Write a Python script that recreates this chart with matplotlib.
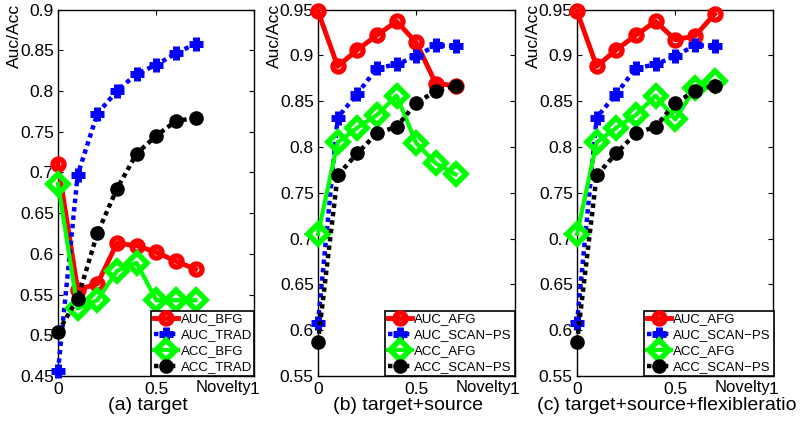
import matplotlib
matplotlib.use("Agg")
import matplotlib.pyplot as plt

plt.rcParams['font.family'] = ['Liberation Sans', 'DejaVu Sans']

novelty = [0.0, 0.1, 0.2, 0.3, 0.4, 0.5, 0.6, 0.7]

# panel (a) target
a_auc_bfg = [0.710, 0.556, 0.563, 0.613, 0.610, 0.602, 0.591, 0.581]
a_auc_trad = [0.456, 0.697, 0.772, 0.800, 0.821, 0.832, 0.846, 0.858]
a_acc_bfg = [0.686, 0.533, 0.543, 0.579, 0.589, 0.543, 0.543, 0.543]
a_acc_trad = [0.504, 0.545, 0.625, 0.680, 0.723, 0.745, 0.763, 0.767]

# panel (b) target+source
b_auc_afg = [0.948, 0.888, 0.906, 0.922, 0.937, 0.914, 0.869, 0.867]
b_auc_scan = [0.608, 0.832, 0.858, 0.886, 0.890, 0.899, 0.911, 0.910]
b_acc_afg = [0.705, 0.805, 0.821, 0.835, 0.856, 0.804, 0.782, 0.770]
b_acc_scan = [0.587, 0.769, 0.793, 0.815, 0.822, 0.848, 0.861, 0.867]

# panel (c) target+source+flexibleratio
c_auc_afg = [0.948, 0.888, 0.906, 0.922, 0.937, 0.917, 0.921, 0.945]
c_auc_scan = [0.608, 0.832, 0.858, 0.886, 0.890, 0.899, 0.911, 0.910]
c_acc_afg = [0.705, 0.805, 0.821, 0.835, 0.856, 0.830, 0.864, 0.872]
c_acc_scan = [0.587, 0.769, 0.793, 0.815, 0.822, 0.848, 0.861, 0.867]

labels_a = ['AUC_BFG', 'AUC_TRAD', 'ACC_BFG', 'ACC_TRAD']
labels_bc = ['AUC_AFG', 'AUC_SCAN\u2212PS', 'ACC_AFG', 'ACC_SCAN\u2212PS']

yticks_a = [0.45, 0.5, 0.55, 0.6, 0.65, 0.7, 0.75, 0.8, 0.85, 0.9]
yticks_bc = [0.55, 0.6, 0.65, 0.7, 0.75, 0.8, 0.85, 0.9, 0.95]
xticks = [0, 0.5, 1]
xticklabels = ['0', '0.5', '1']

titles = ['(a) target', '(b) target+source', '(c) target+source+flexibleratio']

W, H = 804, 422
fig = plt.figure(figsize=(W / 100, H / 100), dpi=100)

panels = [
    (58, (a_auc_bfg, a_auc_trad, a_acc_bfg, a_acc_trad), labels_a, yticks_a),
    (318, (b_auc_afg, b_auc_scan, b_acc_afg, b_acc_scan), labels_bc, yticks_bc),
    (577, (c_auc_afg, c_auc_scan, c_acc_afg, c_acc_scan), labels_bc, yticks_bc),
]

dot = (0, (1.0, 0.9))

for i, (left_px, series, labels, yt) in enumerate(panels):
    top_px, bot_px = 9.5, 376
    ax = fig.add_axes([left_px / W, (H - bot_px) / H, 196.5 / W, (bot_px - top_px) / H])
    s1, s2, s3, s4 = series
    ax.plot(novelty, s1, color=(1, 0, 0), lw=3.5, marker='o', ms=8, mew=3.8,
            mfc='none', mec=(1, 0, 0), label=labels[0], zorder=3, clip_on=False)
    ax.plot(novelty, s2, color=(0, 0, 1), lw=3.2, ls=dot, marker='+', ms=10.5, mew=5,
            label=labels[1], zorder=4, dash_capstyle='butt', clip_on=False)
    ax.plot(novelty, s3, color=(0, 1, 0), lw=3.0, marker='D', ms=10.5, mew=4,
            mfc='none', mec=(0, 1, 0), label=labels[2], zorder=5, clip_on=False)
    ax.plot(novelty, s4, color='k', lw=3.2, ls=dot, marker='o', ms=9.5, mew=1,
            mfc='k', mec='k', label=labels[3], zorder=6, clip_on=False)
    ax.set_xlim(0, 1)
    ax.set_ylim(yt[0], yt[-1])
    ax.set_yticks(yt)
    ax.set_yticklabels([('%g' % v) for v in yt])
    ax.set_xticks(xticks)
    ax.set_xticklabels(xticklabels)
    ax.tick_params(direction='in', length=3.5, width=0.8, labelsize=12.5,
                   top=True, right=True, pad=3)
    ax.tick_params(axis='x', pad=4)
    for sp in ax.spines.values():
        sp.set_linewidth(1.0)
    leg = ax.legend(loc='lower right', fontsize=9.5, borderaxespad=0,
                    handlelength=1.8, handletextpad=0.2, labelspacing=0.28,
                    borderpad=0.2, fancybox=False, framealpha=1,
                    edgecolor='k', markerscale=1.0)
    leg.get_frame().set_linewidth(1.2)
    leg.set_zorder(10)
    ax.text(0.982, -0.010, 'Novelty', transform=ax.transAxes, ha='right',
            va='top', fontsize=12)
    # y-label at top-left
    fig.text((left_px - 44) / W, 1 - 4 / H, 'Auc/Acc', rotation=90,
             ha='center', va='top', fontsize=12.5)
    # caption below
    if i == 2:
        fig.text(537 / W, (H - 405) / H, titles[i], ha='left', va='center', fontsize=14)
    else:
        cx = left_px + 98 - 8
        fig.text(cx / W, (H - 405) / H, titles[i], ha='center', va='center', fontsize=14)

fig.savefig('out.png', dpi=100)
